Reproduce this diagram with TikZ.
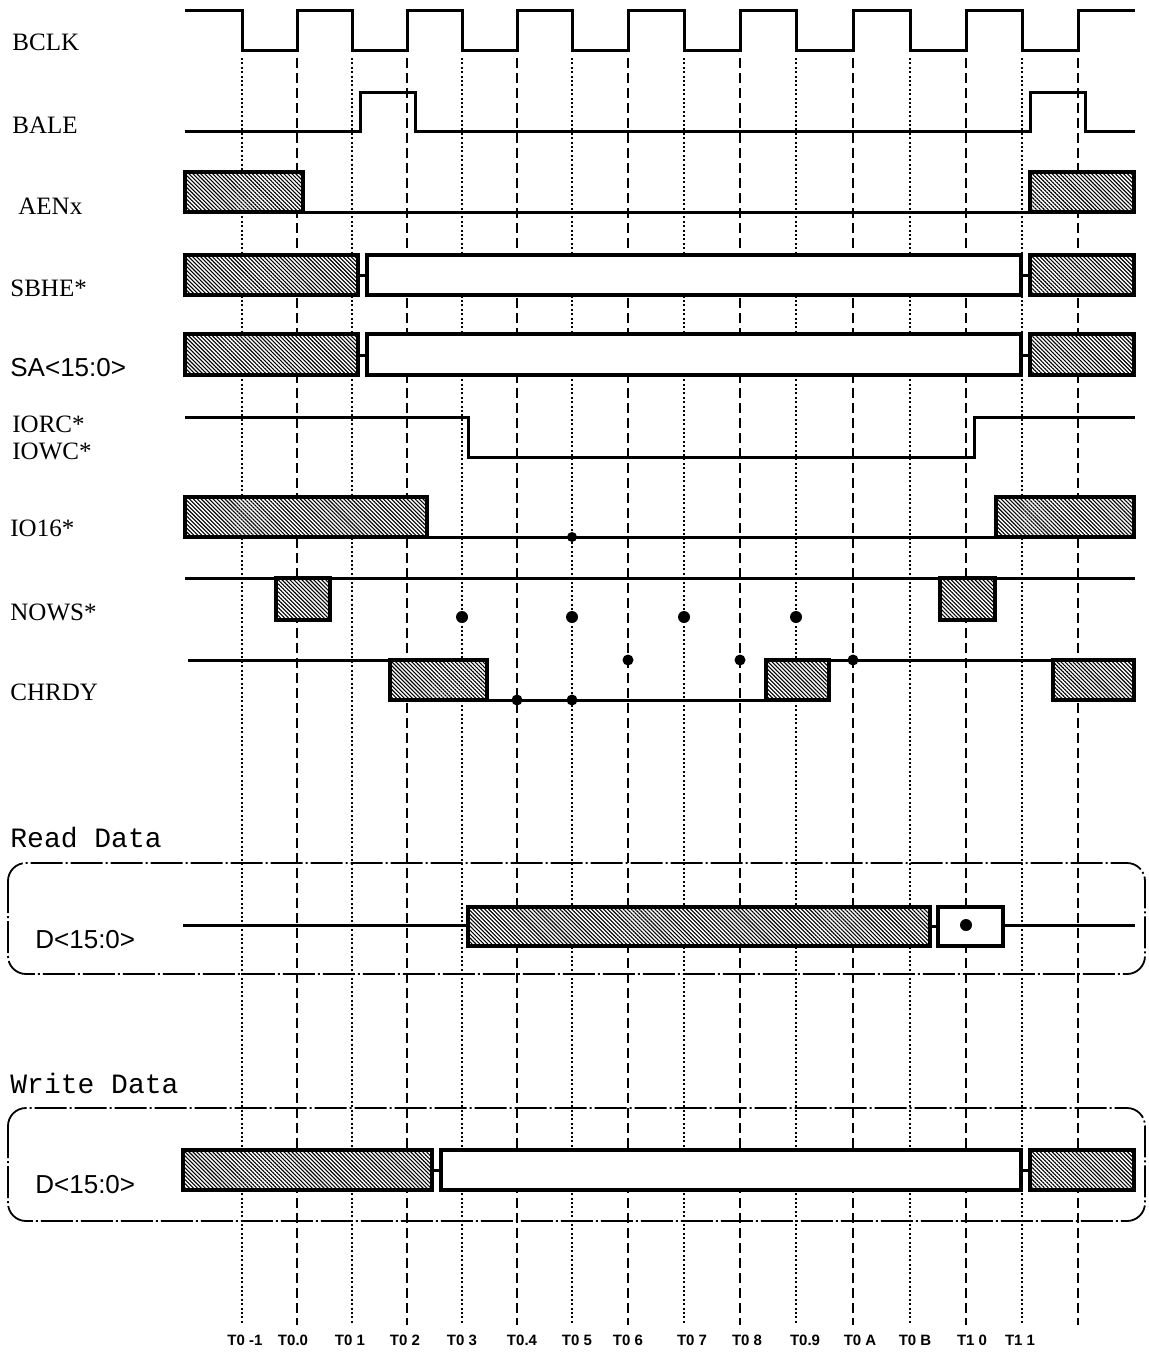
\documentclass[tikz,border=0pt]{standalone}
\usepackage{fontspec}
\setmainfont{Liberation Serif}
\setsansfont{Liberation Sans}
\setmonofont{Liberation Mono}
\usetikzlibrary{patterns.meta}

\tikzset{
  sig/.style={line width=1.5pt},
  hatchbox/.style={draw, line width=1.7pt, preaction={fill=white},
    pattern={Lines[angle=-45,distance=1.4pt,line width=0.55pt]}},
  openbox/.style={draw, line width=1.7pt, fill=white},
  tdash/.style={line width=1pt, dash pattern=on 5pt off 2.5pt},
  tdot/.style={line width=0.7pt, dash pattern=on 1pt off 1.2pt},
  frame/.style={line width=0.9pt, dash pattern=on 16pt off 1.5pt on 1pt off 1.5pt, rounded corners=9pt},
  signame/.style={anchor=west, inner sep=0pt, font=\fontsize{12.5}{13.5}\selectfont},
  busname/.style={anchor=west, inner sep=0pt, font=\sffamily\fontsize{13}{15}\selectfont},
  title/.style={anchor=west, inner sep=0pt, font=\ttfamily\fontsize{14}{15}\selectfont},
  ticklbl/.style={inner sep=0pt, font=\sffamily\bfseries\fontsize{7.5}{8}\selectfont},
  dot/.style={circle, fill, inner sep=0pt, minimum size=5pt}
}

\begin{document}
\begin{tikzpicture}[x=0.5pt,y=-0.5pt]
\useasboundingbox (0,0) rectangle (1149,1355);

% time marks
\foreach \x in {242,352,462,572,684,796,910,1022}
  \draw[tdot] (\x,58) -- (\x,1325);
\foreach \x in {297,407,517,628,740,853,966,1078}
  \draw[tdash] (\x,58) -- (\x,1325);
\foreach \x/\t [count=\i] in {245/T0 -1,293/T0.0,350/T0 1,405/T0 2,462/T0 3,522/T0.4,577/T0 5,628/T0 6,
    692/T0 7,747/T0 8,805/T0.9,860/T0 A,915/T0 B,972/T1 0,1020/T1 1}
  \node[ticklbl] (t\i) at (\x,1340) {\t};

% signal names
\node[signame] (bclk) at (12,42) {BCLK};
\node[signame] (bale) at (12,125) {BALE};
\node[signame] (aen) at (18,206) {AENx};
\node[signame] (sbhe) at (10,288) {SBHE*};
\node[busname] (sa) at (10,368) {SA<15:0>};
\node[signame, align=left] (iorc) at (12,438) {IORC*\\IOWC*};
\node[signame] (io16) at (10,528) {IO16*};
\node[signame] (nows) at (10,612) {NOWS*};
\node[signame] (chrdy) at (10,692) {CHRDY};

% BCLK
\draw[sig] (185,10) -| (242,50) -| (297,10) -| (352,50) -| (407,10) -| (462,50) -| (517,10)
  -| (572,50) -| (628,10) -| (684,50) -| (740,10) -| (796,50) -| (853,10) -| (910,50)
  -| (966,10) -| (1022,50) -| (1078,10) -- (1135,10);
% BALE
\draw[sig] (185,131) -| (360,92) -| (415,131) -| (1030,92) -| (1085,131) -- (1135,131);
% AENx
\draw[sig] (303,212) -- (1030,212);
\draw[hatchbox] (185,172) rectangle (303,212);
\draw[hatchbox] (1030,172) rectangle (1134,212);
% SBHE*
\draw[sig] (358,275) -- (367,275) (1021,275) -- (1030,275);
\draw[hatchbox] (185,255) rectangle (358,295);
\draw[openbox] (367,255) rectangle (1021,295);
\draw[hatchbox] (1030,255) rectangle (1134,295);
% SA<15:0>
\draw[sig] (358,355) -- (367,355) (1021,355) -- (1030,355);
\draw[hatchbox] (185,334) rectangle (358,375);
\draw[openbox] (367,334) rectangle (1021,375);
\draw[hatchbox] (1030,334) rectangle (1134,375);
% IORC* / IOWC*
\draw[sig] (185,417) -| (468,457) -| (974,417) -- (1135,417);
% IO16*
\draw[sig] (427,537) -- (996,537);
\draw[hatchbox] (185,497) rectangle (427,537);
\draw[hatchbox] (996,497) rectangle (1134,537);
\node[dot] (io16d) at (572,537) {};
% NOWS*
\draw[sig] (185,578) -- (1135,578);
\draw[hatchbox] (276,578) rectangle (330,620);
\draw[hatchbox] (940,578) rectangle (995,620);
\foreach \x [count=\i] in {462,572,684,796}
  \node[dot, minimum size=6pt] (nw\i) at (\x,617) {};
% CHRDY
\draw[sig] (188,660) -- (390,660) (487,700) -- (766,700) (829,660) -- (1053,660);
\draw[hatchbox] (390,660) rectangle (487,700);
\draw[hatchbox] (766,660) rectangle (829,700);
\draw[hatchbox] (1053,660) rectangle (1134,700);
\foreach \x/\y [count=\i] in {517/700,572/700,628/660,740/660,853/660}
  \node[dot, minimum size=5.5pt] (cr\i) at (\x,\y) {};

% read data
\node[title] (rd) at (10,838) {Read Data};
\draw[frame] (8,863) rectangle (1145,974);
\node[busname] (drd) at (35,940) {D<15:0>};
\draw[sig] (183,925) -- (468,925) (930,926) -- (938,926) (1003,925) -- (1135,925);
\draw[hatchbox] (468,907) rectangle (930,946);
\draw[openbox] (938,907) rectangle (1003,946);
\node[dot, minimum size=6pt] (rdd) at (966,925) {};

% write data
\node[title] (wd) at (10,1083) {Write Data};
\draw[frame] (8,1108) rectangle (1145,1221);
\node[busname] (dwr) at (35,1185) {D<15:0>};
\draw[sig] (432,1170) -- (441,1170) (1021,1170) -- (1030,1170);
\draw[hatchbox] (183,1150) rectangle (432,1190);
\draw[openbox] (441,1150) rectangle (1021,1190);
\draw[hatchbox] (1030,1150) rectangle (1134,1190);
\end{tikzpicture}
\end{document}
